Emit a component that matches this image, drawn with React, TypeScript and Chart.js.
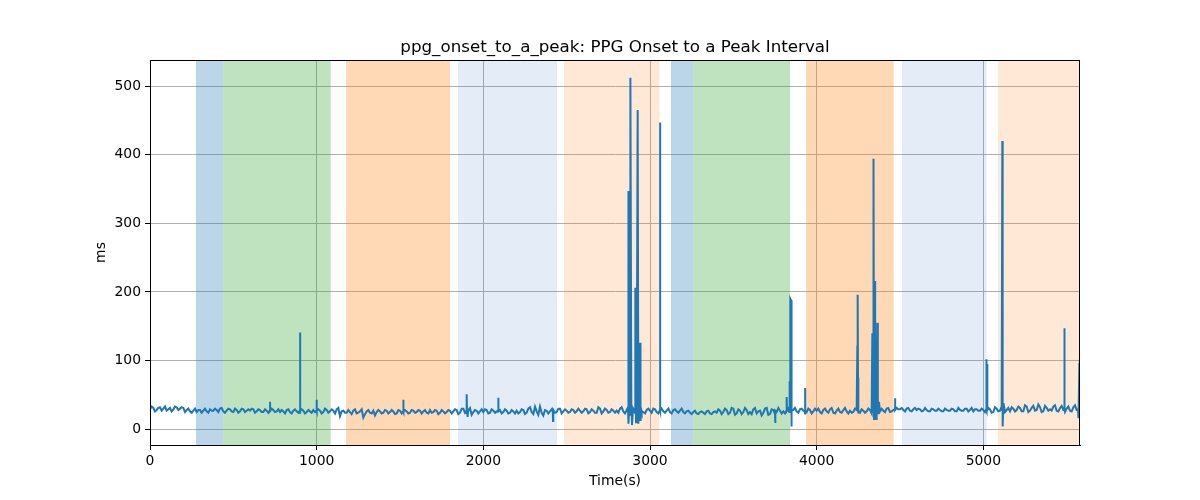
import React, { useEffect, useRef } from 'react';
import { Chart, registerables } from 'chart.js';

Chart.register(...registerables);

// ============================================
// DATA
// ============================================
// baseline samples, one every 20 s starting at t = 0
const SAMPLE_STEP = 20;
const baseline: number[] = [
  29, 31, 28, 32, 30, 27, 31, 29, 32, 30,
  31, 28, 26, 27, 25, 28, 27, 26, 29, 27,
  28, 30, 26, 27, 29, 25, 28, 26, 29, 27,
  27, 29, 26, 28, 25, 27, 26, 28, 26, 25,
  26, 28, 25, 27, 26, 24, 27, 25, 26, 28,
  26, 27, 25, 28, 26, 27, 29, 19, 27, 24,
  25, 27, 23, 26, 17, 26, 24, 27, 25, 26,
  24, 27, 25, 26, 23, 27, 25, 26, 24, 27,
  25, 27, 26, 24, 28, 25, 27, 24, 26, 25,
  27, 26, 28, 24, 30, 22, 31, 25, 27, 26,
  25, 28, 24, 27, 26, 28, 25, 27, 24, 26,
  27, 25, 28, 24, 32, 22, 26, 33, 20, 27,
  26, 28, 25, 30, 26, 27, 25, 28, 26, 27,
  26, 29, 25, 27, 24, 30, 26, 28, 25, 27,
  27, 30, 26, 28, 24, 30, 22, 31, 25, 28,
  27, 30, 25, 28, 26, 27, 25, 28, 26, 27,
  25, 26, 24, 25, 23, 25, 24, 26, 23, 25,
  24, 27, 25, 28, 24, 30, 23, 27, 25, 28,
  25, 29, 23, 27, 24, 31, 22, 28, 25, 27,
  26, 30, 25, 28, 26, 29, 27, 25, 28, 26,
  27, 25, 28, 26, 29, 24, 27, 25, 28, 26,
  27, 25, 28, 24, 27, 26, 28, 25, 29, 26,
  27, 30, 25, 28, 31, 29, 28, 30, 27, 29,
  28, 29, 27, 28, 26, 29, 27, 28, 26, 28,
  27, 29, 26, 28, 27, 30, 28, 26, 29, 27,
  28, 26, 29, 25, 30, 27, 32, 28, 26, 30,
  28, 31, 26, 33, 27, 34, 28, 32, 26, 31,
  29, 33, 27, 31, 28, 30, 27, 32, 28,
];

// in-between samples, one every 20 s starting at t = 10
const MID_OFFSET = 10;
const baselineMid: number[] = [
  33, 26, 31, 27, 33, 29, 26, 33, 28, 32,
  25, 30, 24, 30, 28, 24, 30, 24, 27, 30,
  25, 31, 24, 30, 26, 30, 24, 30, 25, 29,
  30, 24, 29, 25, 29, 24, 30, 25, 29, 28,
  23, 29, 23, 29, 24, 29, 23, 28, 24, 25,
  29, 23, 30, 24, 29, 23, 31, 26, 24, 28,
  22, 29, 24, 29, 22, 28, 23, 20, 28, 23,
  28, 23, 28, 22, 28, 23, 28, 23, 28, 24,
  28, 23, 28, 23, 24, 28, 22, 28, 23, 28,
  23, 29, 22, 30, 24, 28, 21, 28, 23, 29,
  29, 23, 29, 24, 29, 23, 29, 23, 28, 23,
  23, 29, 22, 30, 25, 33, 21, 24, 28, 23,
  29, 24, 30, 23, 29, 24, 29, 24, 30, 24,
  30, 23, 29, 24, 32, 23, 30, 24, 29, 24,
  24, 32, 23, 30, 27, 24, 29, 26, 23, 30,
  24, 29, 23, 30, 24, 30, 23, 29, 24, 30,
  23, 27, 22, 27, 22, 26, 22, 27, 22, 26,
  29, 22, 30, 22, 31, 21, 29, 22, 31, 22,
  22, 31, 26, 20, 30, 21, 29, 22, 31, 23,
  23, 30, 22, 31, 24, 30, 23, 30, 23, 30,
  30, 23, 30, 24, 31, 23, 30, 24, 31, 23,
  24, 30, 23, 29, 24, 30, 23, 30, 24, 30,
  25, 31, 26, 32, 29, 31, 26, 31, 26, 31,
  30, 26, 31, 26, 30, 27, 30, 26, 30, 27,
  30, 26, 31, 27, 30, 26, 31, 29, 27, 30,
  25, 31, 24, 32, 26, 33, 25, 31, 32, 26,
  33, 26, 35, 25, 31, 27, 36, 25, 34, 27,
  27, 35, 26, 34, 25, 33, 26, 35, 31,
];

// artefact spikes and dips as [time (s), value (ms)]
const spikes: [number, number][] = [
  [719, 27], [720, 40], [721, 27],
  [899, 27], [900, 141], [902, 27],
  [999, 27], [1000, 43], [1001, 27],
  [1519, 26], [1520, 43], [1522, 26],
  [1899, 27], [1900, 51], [1902, 27], [1906, 18], [1908, 27],
  [2089, 26], [2090, 46], [2091, 26],
  [2417, 26], [2418, 12], [2419, 26],
  [2860, 27], [2868, 30], [2870, 347], [2872, 8], [2876, 30], [2880, 140], [2882, 20],
  [2885, 512], [2888, 25], [2892, 6], [2898, 28], [2908, 27], [2912, 206], [2916, 10],
  [2920, 30], [2926, 465], [2930, 8], [2934, 30], [2938, 126], [2942, 126], [2944, 12], [2948, 28],
  [3058, 27], [3060, 447], [3062, 27],
  [3750, 27], [3752, 9], [3754, 27],
  [3818, 27], [3820, 47], [3822, 27],
  [3836, 25], [3838, 70], [3842, 190], [3846, 188], [3848, 4], [3850, 28],
  [3928, 27], [3930, 60], [3932, 27],
  [4244, 120], [4246, 196], [4248, 75], [4250, 27],
  [4330, 26], [4334, 140], [4336, 30], [4340, 60], [4342, 394], [4344, 15], [4348, 100],
  [4350, 216], [4352, 30], [4356, 15], [4360, 30], [4364, 155], [4367, 30], [4370, 22], [4374, 40],
  [4468, 28], [4470, 45], [4472, 28],
  [5016, 28], [5018, 102], [5022, 95], [5024, 28],
  [5110, 27], [5114, 420], [5116, 4], [5119, 30], [5122, 38],
  [5484, 28], [5486, 147], [5488, 28],
  [5568, 28], [5572, 16], [5576, 95], [5579, 102],
];

const xTicks = [0, 1000, 2000, 3000, 4000, 5000];
const yTicks = [0, 100, 200, 300, 400, 500];

// shaded phases
const spanStarts = [276, 440, 1176, 1848, 2484, 3126, 3260, 3936, 4512, 5088];
const spanEnds = [440, 1084, 1800, 2442, 3056, 3260, 3840, 4462, 5020, 5580];
const spanColors = [
  'rgba(31,119,180,0.3)',
  'rgba(44,160,44,0.3)',
  'rgba(255,127,14,0.3)',
  'rgba(31,100,200,0.12)',
  'rgba(255,127,14,0.17)',
  'rgba(31,119,180,0.3)',
  'rgba(44,160,44,0.3)',
  'rgba(255,127,14,0.3)',
  'rgba(31,100,200,0.12)',
  'rgba(255,127,14,0.17)',
];

const FONT = 'DejaVu Sans';

// ============================================
// PLUGINS
// ============================================
const spanPlugin = {
  id: 'spans',
  beforeDatasetsDraw(chart: any) {
    const { ctx, chartArea, scales } = chart;
    ctx.save();
    ctx.beginPath();
    ctx.rect(chartArea.left, chartArea.top, chartArea.right - chartArea.left, chartArea.bottom - chartArea.top);
    ctx.clip();
    spanStarts.forEach((s, i) => {
      const x1 = scales.x.getPixelForValue(s);
      const x2 = scales.x.getPixelForValue(spanEnds[i]);
      ctx.fillStyle = spanColors[i];
      ctx.fillRect(x1, chartArea.top, x2 - x1, chartArea.bottom - chartArea.top);
    });
    ctx.restore();
  },
};

const framePlugin = {
  id: 'frame',
  afterDraw(chart: any) {
    const { ctx, chartArea } = chart;
    ctx.save();
    ctx.strokeStyle = '#000';
    ctx.lineWidth = 1;
    ctx.strokeRect(chartArea.left + 0.5, chartArea.top + 0.5, chartArea.right - chartArea.left - 1, chartArea.bottom - chartArea.top);
    ctx.fillStyle = '#000';
    ctx.textAlign = 'center';
    ctx.textBaseline = 'alphabetic';
    ctx.font = `16.7px "${FONT}"`;
    ctx.fillText('ppg_onset_to_a_peak: PPG Onset to a Peak Interval', (chartArea.left + chartArea.right) / 2, 52);
    ctx.font = `13.9px "${FONT}"`;
    ctx.textBaseline = 'middle';
    ctx.fillText('Time(s)', (chartArea.left + chartArea.right) / 2, 481);
    ctx.translate(101, (chartArea.top + chartArea.bottom) / 2);
    ctx.rotate(-Math.PI / 2);
    ctx.fillText('ms', 0, 0);
    ctx.restore();
  },
};

// ============================================
// CHART
// ============================================
const App: React.FC = () => {
  const canvasRef = useRef<HTMLCanvasElement>(null);

  useEffect(() => {
    document.body.style.margin = '0';
    if (!canvasRef.current) return;

    const points = [
      ...baseline.map((v, i) => ({ x: i * SAMPLE_STEP, y: v })),
      ...baselineMid.map((v, i) => ({ x: MID_OFFSET + i * SAMPLE_STEP, y: v })),
      ...spikes.map(([x, y]) => ({ x, y })),
    ].sort((a, b) => a.x - b.x);

    const tickFont = { family: FONT, size: 13.9 };

    const chart = new Chart(canvasRef.current, {
      type: 'line',
      data: {
        datasets: [
          {
            data: points,
            borderColor: '#1f77b4',
            borderWidth: 2,
            pointRadius: 0,
            tension: 0,
            fill: false,
          },
        ],
      },
      options: {
        animation: false,
        responsive: false,
        devicePixelRatio: 1,
        layout: { padding: { left: 0, right: 120, top: 60, bottom: 0 } },
        plugins: {
          legend: { display: false },
          tooltip: { enabled: false },
          title: { display: false },
        },
        scales: {
          x: {
            type: 'linear',
            min: 0,
            max: 5580,
            afterBuildTicks: (axis: any) => {
              axis.ticks = xTicks.map((v) => ({ value: v }));
            },
            afterFit: (scale: any) => {
              scale.height = 55;
            },
            grid: { color: '#b0b0b0', lineWidth: 1, tickColor: '#000', tickLength: 5 },
            border: { color: '#000', width: 1 },
            ticks: {
              color: '#000',
              font: tickFont,
              padding: 3,
              maxRotation: 0,
              autoSkip: false,
              callback: (v: any) => String(v),
            },
          },
          y: {
            type: 'linear',
            min: -23,
            max: 538,
            afterBuildTicks: (axis: any) => {
              axis.ticks = yTicks.map((v) => ({ value: v }));
            },
            afterFit: (scale: any) => {
              scale.width = 150;
            },
            grid: { color: '#b0b0b0', lineWidth: 1, tickColor: '#000', tickLength: 5 },
            border: { color: '#000', width: 1 },
            ticks: { color: '#000', font: tickFont, padding: 4, autoSkip: false, callback: (v: any) => String(v) },
          },
        },
      } as any,
      plugins: [spanPlugin, framePlugin],
    });

    return () => {
      chart.destroy();
    };
  }, []);

  return (
    <div style={{ position: 'absolute', left: 0, top: 0, width: 1200, height: 500, background: '#fff' }}>
      <canvas ref={canvasRef} width={1200} height={500}></canvas>
    </div>
  );
};

export default App;
